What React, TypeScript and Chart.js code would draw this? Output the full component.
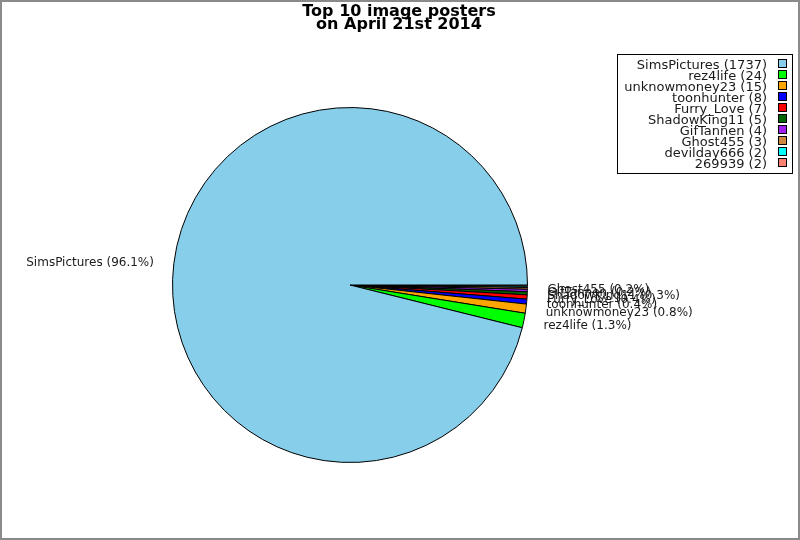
import React, { useEffect, useRef } from "react";
import { Chart, registerables } from "chart.js";

Chart.register(...registerables);

const categories = [
  "SimsPictures",
  "rez4life",
  "unknowmoney23",
  "toonhunter",
  "Furry_Love",
  "ShadowKing11",
  "GifTannen",
  "Ghost455",
  "devilday666",
  "269939",
];
const values = [1737, 24, 15, 8, 7, 5, 4, 3, 2, 2];
const colors = [
  "#87CEEB",
  "#00FF00",
  "#FFA500",
  "#0000FF",
  "#FF0000",
  "#006400",
  "#A020F0",
  "#CD853F",
  "#00FFFF",
  "#FA8072",
];
const titleLines = ["Top 10 image posters", "on April 21st 2014"];

const FONT = "DejaVu Sans, Verdana, sans-serif";

export default function App() {
  const ref = useRef<HTMLCanvasElement | null>(null);

  useEffect(() => {
    document.body.style.margin = "0";
    const canvas = ref.current;
    if (!canvas) return;
    const total = values.reduce((a, b) => a + b, 0);
    // Pie drawn counter-clockwise from 3 o'clock in the reference: reverse order for Chart.js (clockwise)
    const order = categories.map((_, i) => i).reverse();

    const overlay = {
      id: "overlay",
      afterDraw(chart: any) {
        const ctx = chart.ctx as CanvasRenderingContext2D;
        ctx.save();
        // outer frame
        ctx.strokeStyle = "#8a8a8a";
        ctx.lineWidth = 2;
        ctx.strokeRect(1, 1, 798, 538);

        // title
        ctx.fillStyle = "#000";
        ctx.font = `bold 16px ${FONT}`;
        ctx.textAlign = "center";
        ctx.textBaseline = "alphabetic";
        ctx.fillText(titleLines[0], 399, 16);
        ctx.fillText(titleLines[1], 399, 29);

        // slice labels (very small slices, below 0.15%, carry no label)
        const meta = chart.getDatasetMeta(0);
        ctx.font = `12px ${FONT}`;
        ctx.fillStyle = "#1a1a1a";
        ctx.textBaseline = "middle";
        meta.data.forEach((arc: any, j: number) => {
          const idx = order[j];
          const share = (values[idx] / total) * 100;
          if (share < 0.15) return;
          const p = arc.getProps(["x", "y", "startAngle", "endAngle", "outerRadius"], true);
          const mid = (p.startAngle + p.endAngle) / 2;
          const R = p.outerRadius + 18;
          const x = p.x + R * Math.cos(mid);
          const y = p.y + R * Math.sin(mid) + 1.5;
          const text = `${categories[idx]} (${share.toFixed(1)}%)`;
          if (Math.cos(mid) >= 0) {
            ctx.textAlign = "left";
            ctx.fillText(text, x + 2, y);
          } else {
            ctx.textAlign = "right";
            ctx.fillText(text, x - 2, y);
          }
        });

        // legend
        ctx.fillStyle = "#fff";
        ctx.fillRect(617.5, 54.5, 175, 119);
        ctx.strokeStyle = "#000";
        ctx.lineWidth = 1;
        ctx.strokeRect(617.5, 54.5, 175, 119);
        ctx.font = `13px ${FONT}`;
        ctx.textAlign = "right";
        ctx.textBaseline = "middle";
        categories.forEach((c, i) => {
          const y = 64 + i * 11;
          ctx.fillStyle = "#1a1a1a";
          ctx.fillText(`${c} (${values[i]})`, 767, y + 1.5);
          ctx.fillStyle = colors[i];
          ctx.fillRect(778.5, y - 4.5, 8, 8);
          ctx.strokeStyle = "#000";
          ctx.strokeRect(778.5, y - 4.5, 8, 8);
        });
        ctx.restore();
      },
    };

    const chart = new Chart(canvas, {
      type: "pie",
      data: {
        labels: order.map((i) => categories[i]),
        datasets: [
          {
            data: order.map((i) => values[i]),
            backgroundColor: order.map((i) => colors[i]),
            borderColor: "#000",
            borderWidth: 1,
          },
        ],
      },
      options: {
        responsive: false,
        animation: false,
        rotation: 90,
        layout: { padding: { top: 107, bottom: 77, left: 172, right: 272 } },
        plugins: {
          legend: { display: false },
          title: { display: false },
          tooltip: { enabled: false },
        },
      },
      plugins: [overlay],
    });
    return () => chart.destroy();
  }, []);

  return (
    <div style={{ width: 800, height: 540, background: "#fff" }}>
      <canvas ref={ref} width={800} height={540} style={{ display: "block" }} />
    </div>
  );
}
